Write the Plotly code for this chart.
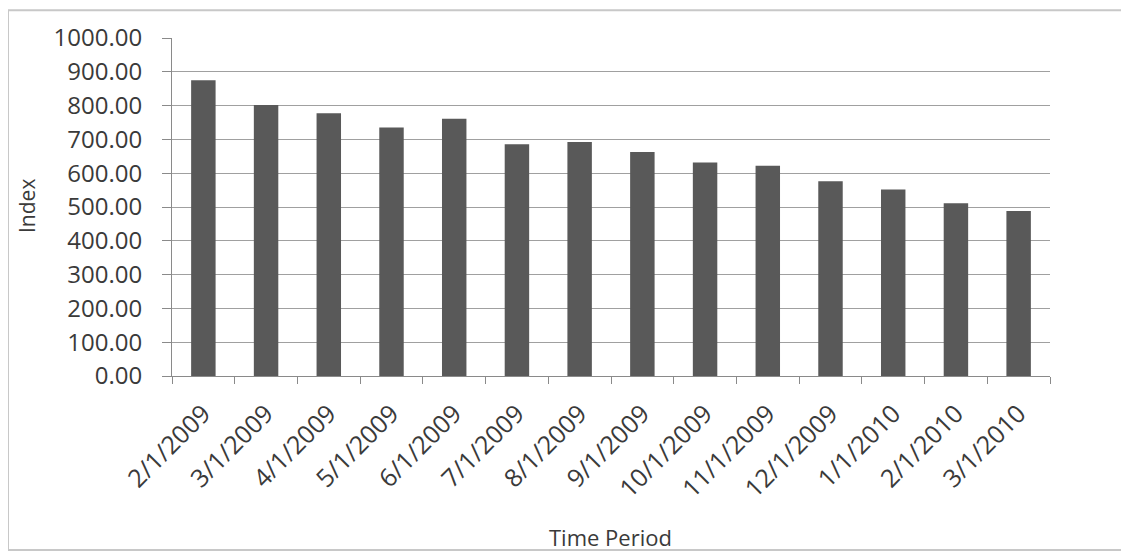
import plotly.graph_objects as go

categories = ["2/1/2009", "3/1/2009", "4/1/2009", "5/1/2009", "6/1/2009", "7/1/2009",
              "8/1/2009", "9/1/2009", "10/1/2009", "11/1/2009", "12/1/2009",
              "1/1/2010", "2/1/2010", "3/1/2010"]
values = [875, 802, 777, 735, 761, 686, 692, 663, 632, 622, 576, 552, 511, 488]
y_ticks = [0, 100, 200, 300, 400, 500, 600, 700, 800, 900, 1000]
y_tick_labels = ["%.2f" % v for v in y_ticks]

W, H = 1129, 554
OFF = 8  # page body offset
L, R, T, B = 172 - OFF, 79 + OFF, 36 - OFF, 178 + OFF
pw, ph = W - L - R, H - T - B

def px_x(x):  # screen px -> paper x
    return (x - OFF - L) / pw

def px_y(y):  # screen px -> paper y
    return (H - B - (y - OFF)) / ph

fig = go.Figure(go.Bar(x=categories, y=values, marker=dict(color="#595959", line=dict(width=0)),
                       width=0.39))

font_fam = "Open Sans, Liberation Sans, sans-serif"
txt = "#3a3a3a"
fig.update_layout(
    width=W, height=H,
    margin=dict(l=L, r=R, t=T, b=B),
    paper_bgcolor="white", plot_bgcolor="white",
    showlegend=False,
    font=dict(family=font_fam, color=txt),
    xaxis=dict(
        type="category", tickangle=-45, tickfont=dict(size=25, color=txt),
        showline=True, linecolor="#8a8a8a", linewidth=1,
        ticks="outside", ticklen=7, tickcolor="#8a8a8a", tickson="boundaries",
        ticklabelstandoff=12,
        showgrid=False, range=[-0.5, len(categories) - 0.5],
    ),
    yaxis=dict(
        range=[0, 1000], tickvals=y_ticks, ticktext=y_tick_labels,
        tickfont=dict(size=24, color=txt),
        showgrid=True, gridcolor="#a0a0a0", gridwidth=1,
        showline=True, linecolor="#8a8a8a", linewidth=1,
        ticks="outside", ticklen=9, tickcolor="#8a8a8a",
        ticklabelstandoff=15,
        zeroline=False,
    ),
    annotations=[
        dict(text="Time Period", xref="paper", yref="paper", x=px_x(610), y=px_y(538),
             xanchor="center", yanchor="middle", showarrow=False,
             font=dict(size=22, color=txt)),
        dict(text="Index", xref="paper", yref="paper", x=px_x(27), y=px_y(205),
             xanchor="center", yanchor="middle", showarrow=False, textangle=-90,
             font=dict(size=21, color=txt)),
    ],
)

# light chart border
fig.add_shape(type="rect", xref="paper", yref="paper",
              x0=px_x(8), x1=px_x(1122),
              y0=px_y(551), y1=px_y(8),
              line=dict(color="#c8c8c8", width=2), fillcolor="rgba(0,0,0,0)", layer="below")

fig.write_html("out.html")
